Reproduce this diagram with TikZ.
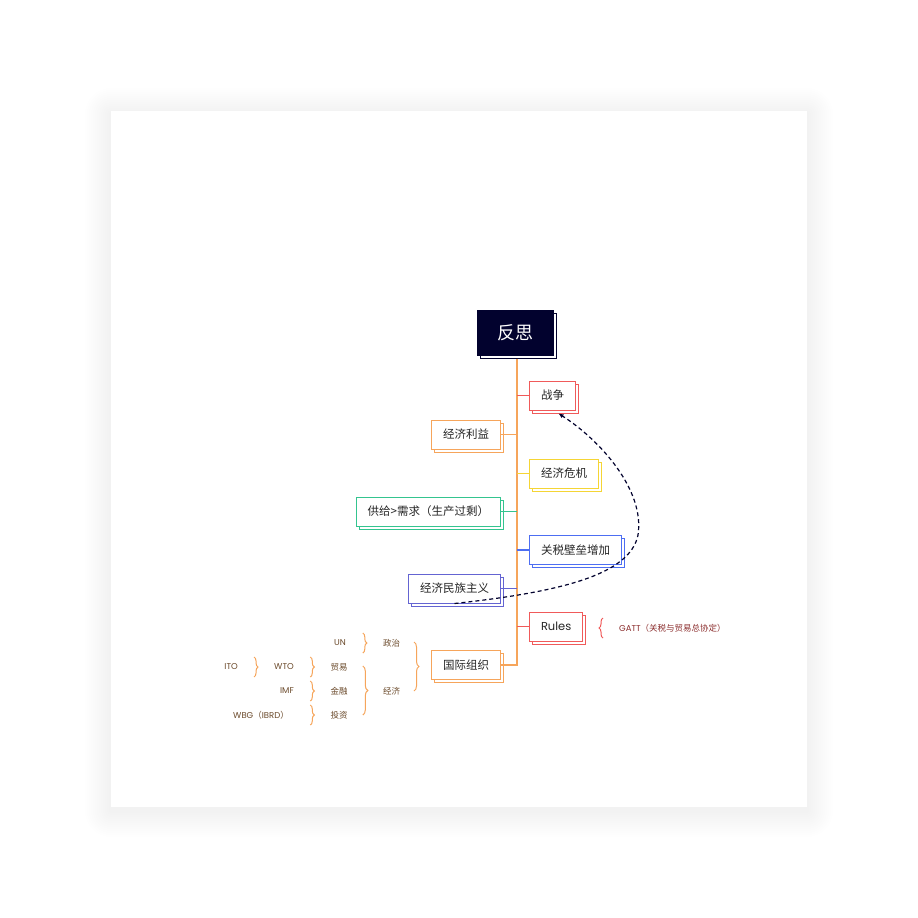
\documentclass[tikz,border=0pt]{standalone}
\usepackage{fontspec}
\setmainfont{Noto Sans CJK SC}
\newfontfamily\lat{Poppins}
\usepackage{tikz}
\usetikzlibrary{positioning,arrows.meta,calc,shadows,decorations.pathreplacing}
\usepackage{xcolor}
\definecolor{cnavy}{HTML}{02022E}
\definecolor{cred}{HTML}{F05A5A}
\definecolor{corange}{HTML}{F6A55B}
\definecolor{cyellow}{HTML}{F5D535}
\definecolor{cgreen}{HTML}{34C48F}
\definecolor{cblue}{HTML}{4D6EF2}
\definecolor{cindigo}{HTML}{6464D2}
\definecolor{cbrown}{HTML}{6B4A2B}
\definecolor{cdarkred}{HTML}{8C2E2E}

\begin{document}
\begin{tikzpicture}[
    x=1pt, y=-1pt,
    bx/.style={draw=#1, fill=white, line width=1pt, minimum height=29pt,
               inner xsep=11.5pt, inner ysep=2pt, text=black!85,
               font=\fontsize{11.5}{14}\selectfont,
               general shadow={shadow xshift=3pt, shadow yshift=-3pt,
                               draw=#1, fill=white, line width=1pt}},
    ln/.style={draw=#1, line width=1.2pt},
    lbl/.style={font=\fontsize{8.5}{10}\selectfont, text=cbrown, inner sep=1pt},
    brc/.style={decorate, decoration={brace, amplitude=#1}, draw=corange, line width=1pt},
    brc/.default=4pt
  ]
  % --- page and card ---
  \fill[white] (0,0) rectangle (918,918);
  \useasboundingbox (0,0) rectangle (918,918);
  \foreach \s in {2,4,...,26}
    \fill[black, opacity=0.0045, rounded corners=\s pt] (111-\s,114-\s) rectangle (807+\s,811+\s);
  \fill[white] (111,111) rectangle (807,807);

  % --- root and trunk ---
  \node[bx=cnavy, fill=cnavy, text=white, minimum width=76pt, minimum height=45pt,
        font=\fontsize{18}{20}\selectfont] (root) at (515,332.5) {反思};
  \coordinate (tk) at (517,0);

  % --- branches ---
  \node[bx=cred, anchor=west] (zhanzheng) at (529,395.5) {战争};
  \node[bx=corange, anchor=east] (liyi) at (501,434.5) {经济利益};
  \node[bx=cyellow, anchor=west] (weiji) at (529,473.5) {经济危机};
  \node[bx=cgreen, anchor=east] (gongji) at (501,511.5) {供给>需求（生产过剩）};
  \node[bx=cblue, anchor=west] (guanshui) at (529,550) {关税壁垒增加};
  \node[bx=cindigo, anchor=east] (minzu) at (501,588.5) {经济民族主义};
  \node[bx=cred, anchor=west] (rules) at (529,626.5) {\lat Rules};
  \node[bx=corange, anchor=east] (guoji) at (501,665) {国际组织};

  \draw[ln=corange] ($(root.south -| tk)+(0,3)$) |- (guoji.east);
  \draw[ln=cred] (zhanzheng.west -| tk) -- (zhanzheng.west);
  \draw[ln=corange] (liyi.east -| tk) -- (liyi.east);
  \draw[ln=cyellow] (weiji.west -| tk) -- (weiji.west);
  \draw[ln=cgreen] (gongji.east -| tk) -- (gongji.east);
  \draw[ln=cblue] (guanshui.west -| tk) -- (guanshui.west);
  \draw[ln=cindigo] (minzu.east -| tk) -- (minzu.east);
  \draw[ln=cred] (rules.west -| tk) -- (rules.west);

  % --- GATT ---
  \node[lbl, text=cdarkred, anchor=west] (gatt) at (618,628) {{\lat GATT}（关税与贸易总协定）};
  \draw[brc, draw=cred] ($(gatt.west)+(-15,10)$) -- ($(gatt.west)+(-15,-10)$);

  % --- international organisations ---
  \node[lbl] (zhengzhi) at (391.5,643) {政治};
  \node[lbl] (jingji) at (391.5,691) {经济};
  \node[lbl, anchor=east] (un) at (347,643) {\lat UN};
  \node[lbl] (maoyi) at (339,667) {贸易};
  \node[lbl] (jinrong) at (339,691) {金融};
  \node[lbl] (touzi) at (339,715) {投资};
  \node[lbl, anchor=east] (wto) at (295,667) {\lat WTO};
  \node[lbl, anchor=east] (ito) at (239,667) {\lat ITO};
  \node[lbl, anchor=east] (imf) at (295,691) {\lat IMF};
  \node[lbl, anchor=east] (wbg) at (290,715) {{\lat WBG}（{\lat IBRD}）};

  \draw[brc=5pt] ($(guoji.west |- zhengzhi)+(-17,-1)$) -- ($(guoji.west |- jingji)+(-17,0)$);
  \draw[brc] ($(zhengzhi.west)+(-19,-10)$) -- ($(zhengzhi.west)+(-19,10)$);
  \draw[brc=5pt] ($(jingji.west |- maoyi)+(-19,-1)$) -- ($(jingji.west |- touzi)+(-19,0)$);
  \draw[brc] ($(maoyi.west)+(-19,-10)$) -- ($(maoyi.west)+(-19,10)$);
  \draw[brc] ($(jinrong.west)+(-19,-10)$) -- ($(jinrong.west)+(-19,10)$);
  \draw[brc] ($(touzi.west)+(-19,-10)$) -- ($(touzi.west)+(-19,10)$);
  \draw[brc] ($(wto.west)+(-19,-10)$) -- ($(wto.west)+(-19,10)$);

  % --- relation ---
  \draw[cnavy, line width=1.2pt, dash pattern=on 4pt off 3pt, -{Latex[length=5pt,width=4.5pt]}]
    (minzu.south) .. controls (560,592) and (630,575) .. (638,535)
    .. controls (645,490) and (600,440) .. ($(zhanzheng.south)+(6,3)$);
\end{tikzpicture}
\end{document}
